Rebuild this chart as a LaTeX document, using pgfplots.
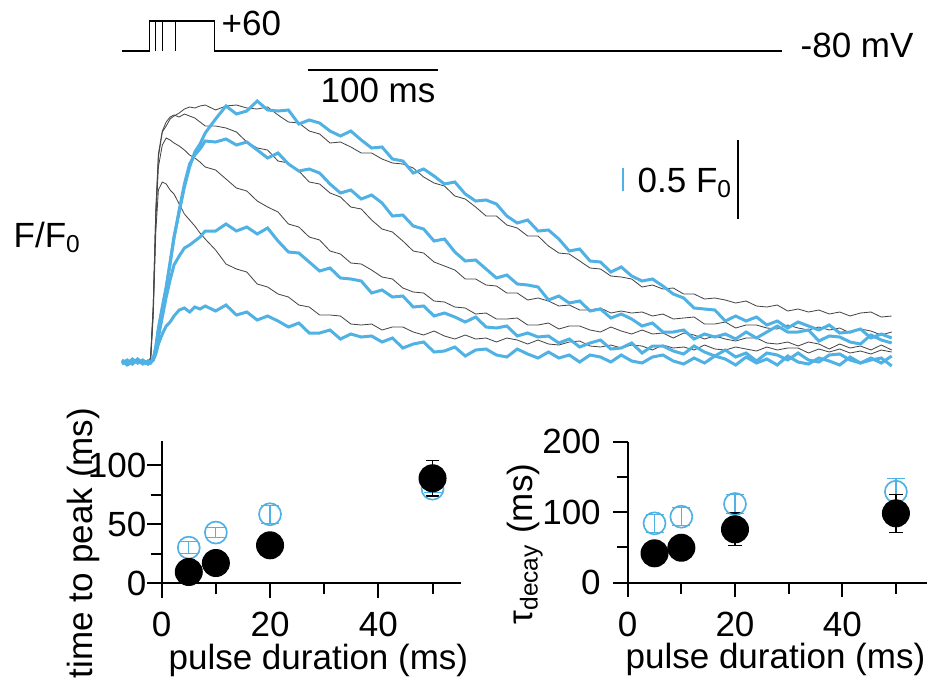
\documentclass[border=0pt]{standalone}
\usepackage{fontspec}
\setmainfont{Liberation Sans}
\usepackage{pgfplots}
\usepackage{pgfplotstable}
\pgfplotsset{compat=1.18}
\definecolor{cblue}{RGB}{80,177,228}
\definecolor{ctrace}{RGB}{70,70,70}

% F/F0 traces: t (ms), height in a.u.; b = black traces, c = blue traces (5,10,20,50 ms pulses)
\pgfplotstableread{
t b5 b10 b20 b50 c5 c10 c20 c50
0 0 2 -1 1 -2 1 -1 2
4 -2 0 2 -1 1 -3 2 -2
8 1 -2 -1 2 -1 0 -2 3
12 2 1 1 -2 1 2 3 -1
16 -1 0 -2 1 0 -2 -1 2
20 0 -1 1 -1 -2 1 1 -2
22 2 3 4 3 1 0 -1 0
24 45 50 55 55 2 2 2 3
26 130 140 152 150 8 10 14 15
28 172 195 208 205 18 25 32 34
31 180 217 231 230 28 45 53 55
34 178 224 240 236 36 65 74 75
37 172 222 245 243 40 82 98 100
40 168 219 247 246 46 97 124 125
44 158 216 245 249 52 106 152 150
48 148 212 248 253 54 114 178 175
52 142 207 246 255 50 117 198 195
56 136 204 244 254 55 121 207 210
60 129 200 240 256 53 125 213 218
64 123 195 236 257 56 131 221 229
72 112 192 236 252 51 131 220 243
80 98 183 234 256 57 138 223 256
88 93 174 230 257 47 131 217 248
96 90 171 220 254 50 135 220 251
104 78 161 214 253 42 128 212 261
112 75 155 212 255 46 134 204 252
120 68 150 201 247 41 121 209 251
128 65 138 199 240 35 110 198 252
136 57 135 191 239 39 109 191 238
144 55 125 180 231 29 100 193 242
152 47 122 178 228 29 91 189 239
160 47 111 169 219 32 94 178 231
168 46 108 165 220 23 84 169 226
176 38 99 155 215 28 83 172 231
184 37 98 153 209 25 81 163 222
192 38 92 142 209 26 69 167 214
200 32 85 133 203 20 72 159 215
208 35 83 130 199 24 65 146 203
216 35 74 121 198 14 66 147 201
224 30 70 111 194 18 55 136 189
232 27 69 109 185 20 56 133 193
240 31 61 100 179 10 46 121 186
248 26 60 96 176 11 49 123 178
256 23 55 92 166 15 45 110 180
264 27 54 83 163 6 40 101 168
272 23 48 83 155 12 45 102 161
280 24 49 77 146 13 35 93 162
288 20 43 76 146 7 34 84 158
296 24 43 69 137 5 36 87 146
304 22 44 69 134 13 26 78 139
312 18 37 62 126 8 29 77 142
320 22 37 64 126 4 25 75 131
328 18 39 61 116 10 26 62 132
336 17 33 56 109 4 19 66 123
344 20 36 57 108 7 23 59 111
352 21 36 52 101 0 15 61 113
360 16 32 52 94 7 19 51 101
368 15 30 54 93 5 22 53 100
376 17 35 49 86 0 13 44 90
384 14 31 51 85 7 14 48 95
392 17 28 49 83 1 19 43 86
400 16 32 50 75 -1 9 36 81
408 12 28 46 77 5 16 39 83
416 17 29 48 73 7 16 30 76
424 14 24 43 74 1 11 30 68
432 15 29 44 68 -2 8 32 64
440 12 27 45 68 4 16 23 54
448 17 23 38 63 -1 10 28 53
456 13 26 38 64 6 6 25 52
464 12 23 40 62 3 12 28 41
472 15 21 34 59 -3 5 23 46
480 13 24 37 61 5 9 30 41
488 11 24 37 56 -1 1 24 45
496 15 19 34 55 3 9 30 37
504 12 18 33 57 -3 7 36 41
512 14 20 37 51 6 2 30 34
520 14 16 34 53 0 9 30 40
528 9 20 32 50 -2 2 32 36
536 13 18 35 52 4 0 21 32
544 10 13 32 48 1 7 26 37
552 13 18 34 50 -3 8 25 29
560 9 14 29 46 5 2 20 30
568 11 16 33 49 -1 -1 18 33
576 8 12 31 50 2 4 27 24
584 12 17 27 45 4 -1 22 28
592 10 12 30 46 -4 6 19 24
}\traces

\pgfplotstableread{
x y e
5 9.6 2
10 17.2 2
20 32.2 2
50 89 15
}\ttpBlack
\pgfplotstableread{
x y e
5 30.2 5
10 43 4.3
20 58.5 7.5
50 80.2 3
}\ttpBlue
\pgfplotstableread{
x y e
5 41.7 4
10 49.6 4
20 75.7 23
50 98.4 27
}\tauBlack
\pgfplotstableread{
x y e
5 84.2 13
10 93.6 13
20 111.6 14
50 129 19
}\tauBlue

\pgfplotsset{
  small/.style={
    anchor=south west, scale only axis, clip=false,
    axis x line*=bottom, axis y line*=left,
    axis line style={-, line width=0.6pt, black},
    tick align=outside, major tick length=4.4pt, minor tick length=3.3pt,
    tick style={black, line width=0.6pt},
    xtick={0,20,40}, minor xtick={10,30,50},
    xticklabel style={inner ysep=0.5pt, yshift=-3.6pt},
    /pgf/number format/assume math mode=true,
  },
}

\begin{document}
\fontsize{10.5}{12.6}\selectfont
\begin{tikzpicture}
\useasboundingbox (0pt,0pt) rectangle (278.4pt,-206.4pt);

% ---------- traces + protocol ----------
\begin{axis}[at={(36.6pt,-111.6pt)}, anchor=south west, scale only axis,
  width=231.3pt, height=106.5pt, xmin=0, xmax=593, ymin=-10, ymax=345,
  hide axis, clip=false, no markers]
  % voltage protocol
  \addplot[black, line width=0.35pt] coordinates {(0,311) (21,311) (21,341) (71,341) (71,311) (508,311)};
  \addplot[black, line width=0.35pt] coordinates {(26,311) (26,341)};
  \addplot[black, line width=0.35pt] coordinates {(31,311) (31,341)};
  \addplot[black, line width=0.35pt] coordinates {(41,311) (41,341)};
  % scale bars
  \addplot[black, line width=0.6pt] coordinates {(143,292.5) (243,292.5)};
  \addplot[black, line width=0.6pt] coordinates {(473.8,143) (473.8,222)};
  \addplot[cblue, line width=0.6pt] coordinates {(385.4,171) (385.4,194)};
  % black traces
  \addplot[ctrace, line width=0.25pt] table[x=t, y=b5]{\traces};
  \addplot[ctrace, line width=0.25pt] table[x=t, y=b10]{\traces};
  \addplot[ctrace, line width=0.25pt] table[x=t, y=b20]{\traces};
  \addplot[ctrace, line width=0.25pt] table[x=t, y=b50]{\traces};
  % blue traces
  \addplot[cblue, line width=0.9pt] table[x=t, y=c5]{\traces};
  \addplot[cblue, line width=0.9pt] table[x=t, y=c10]{\traces};
  \addplot[cblue, line width=0.9pt] table[x=t, y=c20]{\traces};
  \addplot[cblue, line width=0.9pt] table[x=t, y=c50]{\traces};
\end{axis}

% ---------- time to peak ----------
\begin{axis}[small, at={(48.51pt,-174.99pt)}, width=89.7pt, height=42.84pt,
  xmin=0, xmax=55.2, ymin=0, ymax=121,
  ytick={0,50,100}, minor ytick={25,75},
  yticklabel style={inner xsep=0pt},
  xlabel={pulse duration (ms)},
  xlabel style={at={(axis description cs:0.021,-0.602)}, anchor=base west, inner sep=0pt},
  ylabel={time to peak (ms)},
  ylabel style={at={(axis description cs:-0.233,-0.670)}, anchor=base west, inner sep=0pt}]
  \addplot[only marks, cblue, mark=o, mark size=3.3pt, mark options={line width=0.5pt},
    error bars/.cd, y dir=both, y explicit,
    error bar style={line width=0.35pt, cblue},
    error mark options={rotate=90, mark size=2.7pt, line width=0.35pt, cblue}]
    table[x=x, y=y, y error=e]{\ttpBlue};
  \addplot[only marks, black, mark=*, mark size=4pt,
    error bars/.cd, y dir=both, y explicit,
    error bar style={line width=0.45pt, black},
    error mark options={rotate=90, mark size=2pt, line width=0.45pt, black}]
    table[x=x, y=y, y error=e]{\ttpBlack};
\end{axis}

% ---------- tau decay ----------
\begin{axis}[small, at={(188.31pt,-174.81pt)}, width=89.64pt, height=42.3pt,
  xmin=0, xmax=55.7, ymin=0, ymax=200,
  ytick={0,100,200}, minor ytick={50,150},
  xlabel={pulse duration (ms)},
  xlabel style={at={(axis description cs:-0.009,-0.610)}, anchor=base west, inner sep=0pt},
  ylabel={τ\textsubscript{decay} (ms)},
  ylabel style={at={(axis description cs:-0.320,-0.300)}, anchor=base west, inner sep=0pt}]
  \addplot[only marks, cblue, mark=o, mark size=3.3pt, mark options={line width=0.5pt},
    error bars/.cd, y dir=both, y explicit,
    error bar style={line width=0.35pt, cblue},
    error mark options={rotate=90, mark size=2.7pt, line width=0.35pt, cblue}]
    table[x=x, y=y, y error=e]{\tauBlue};
  \addplot[only marks, black, mark=*, mark size=4pt,
    error bars/.cd, y dir=both, y explicit,
    error bar style={line width=0.45pt, black},
    error mark options={rotate=90, mark size=2pt, line width=0.45pt, black}]
    table[x=x, y=y, y error=e]{\tauBlack};
\end{axis}

% ---------- texts ----------
\node[anchor=base west, inner sep=0pt] at (66.3pt,-10.5pt) {+60};
\node[anchor=base west, inner sep=0pt] at (240pt,-17.1pt) {-80 mV};
\node[anchor=base west, inner sep=0pt] at (96pt,-30.6pt) {100 ms};
\node[anchor=base west, inner sep=0pt] at (191.1pt,-57.6pt) {0.5 F\textsubscript{0}};
\node[anchor=base west, inner sep=0pt] at (3.9pt,-74.1pt) {F/F\textsubscript{0}};
\end{tikzpicture}
\end{document}
